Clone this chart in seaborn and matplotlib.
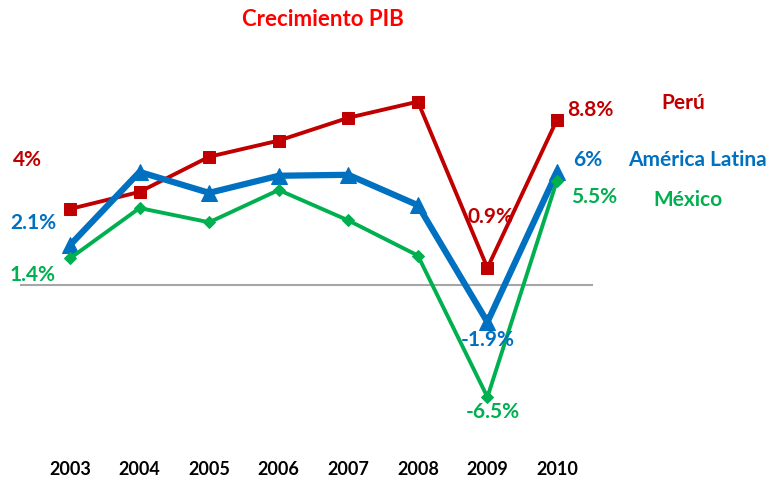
import matplotlib
matplotlib.use("Agg")
import matplotlib.pyplot as plt
import seaborn as sns
import pandas as pd

# data
years = [2003, 2004, 2005, 2006, 2007, 2008, 2009, 2010]
peru = [4.0, 4.9, 6.75, 7.6, 8.8, 9.65, 0.9, 8.7]
latam = [2.1, 5.95, 4.85, 5.75, 5.8, 4.2, -1.95, 5.95]
mexico = [1.4, 4.05, 3.3, 5.0, 3.4, 1.55, -5.9, 5.5]

series_names = ["Perú", "América Latina", "México"]
series_values = [peru, latam, mexico]
colors = ["#C00000", "#0070C0", "#00B050"]
markers = ["s", "^", "D"]
marker_sizes = [9, 11, 6]
line_widths = [2.8, 4.5, 2.8]

# value labels: (series index, year index, text, offset in pixels)
value_labels = [
    (0, 0, "4%", (-43, 50)),
    (1, 0, "2.1%", (-37, 23)),
    (2, 0, "1.4%", (-37, -16)),
    (0, 7, "8.8%", (33, 11)),
    (1, 7, "6%", (31, 13)),
    (2, 7, "5.5%", (37, -16)),
    (0, 6, "0.9%", (3, 52)),
    (1, 6, "-1.9%", (0, -17)),
    (2, 6, "-6.5%", (5, -14)),
]

sns.set_style("white")
plt.rcParams['font.family'] = ['Lato', 'DejaVu Sans']

df = pd.DataFrame({"year": years})
for name, vals in zip(series_names, series_values):
    df[name] = vals

W, H = 778, 481
fig = plt.figure(figsize=(W / 100, H / 100), dpi=100)
ax = fig.add_axes([20 / W, 1 - 430 / H, 573 / W, 370 / H])

ax.axhline(0, color="#A6A6A6", lw=1.5, zorder=1)

for i, name in enumerate(series_names):
    sns.lineplot(data=df, x="year", y=name, ax=ax, color=colors[i],
                 marker=markers[i], markersize=marker_sizes[i],
                 markeredgecolor=colors[i], linewidth=line_widths[i], zorder=3)

for si, yi, txt, off in value_labels:
    ax.annotate(txt, (years[yi], series_values[si][yi]), xytext=off,
                textcoords="offset pixels", ha="center", va="center",
                color=colors[si], fontsize=15, fontweight="bold")

ax.set_xlim(2003 - 50 / 69.57, 2010 + 36 / 69.57)
ax.set_ylim(-144 / 19, 226 / 19)
ax.set_xticks(years)
ax.set_xticklabels([str(y) for y in years], fontsize=13, fontweight="bold", color="black")
ax.tick_params(axis="x", length=0, pad=22)
ax.set_yticks([])
ax.set_xlabel("")
ax.set_ylabel("")
for s in ax.spines.values():
    s.set_visible(False)

# series names on the right
name_pos = [(683, 103), (697, 160), (688, 200)]
for (px, py), name, c in zip(name_pos, series_names, colors):
    fig.text(px / W, 1 - py / H, name, ha="center", va="center",
             color=c, fontsize=15, fontweight="bold")

fig.text(323 / W, 1 - 20 / H, "Crecimiento PIB", ha="center", va="center",
         color="#FF0000", fontsize=16, fontweight="bold")

fig.savefig("out.png", dpi=100)
